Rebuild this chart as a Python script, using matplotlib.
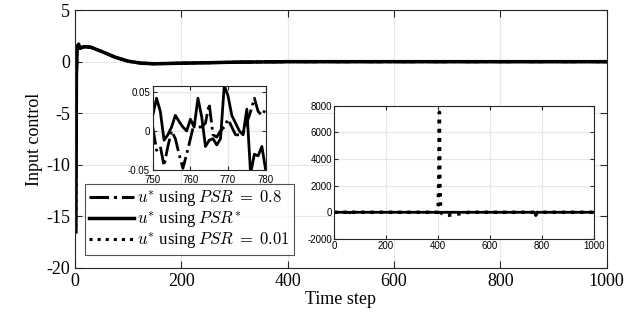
import numpy as np
import matplotlib
matplotlib.use('Agg')
import matplotlib.pyplot as plt

plt.rcParams['font.family'] = ['Liberation Serif', 'DejaVu Serif']
plt.rcParams['mathtext.fontset'] = 'cm'

# main view: knots
main_steps = [2, 3, 4, 5, 7, 10, 14, 20, 30, 50, 75, 100, 125, 150, 200, 250, 300, 400, 500, 600, 700, 800, 900, 1000]
main_psr08 = [-11.0, -1.5, 0.8, 1.4, 1.6, 1.3, 1.4, 1.45, 1.4, 1.0, 0.45, 0.05, -0.15, -0.2, -0.15, -0.1, -0.05, 0.0, 0.0, 0.0, 0.0, 0.0, 0.0, 0.0]
main_psrstar = [-16.5, -1.2, 0.9, 1.5, 1.7, 1.3, 1.4, 1.45, 1.4, 1.0, 0.45, 0.05, -0.15, -0.2, -0.15, -0.1, -0.05, 0.0, 0.0, 0.0, 0.0, 0.0, 0.0, 0.0]
main_psr001 = [-16.0, -1.3, 0.9, 1.5, 1.6, 1.3, 1.4, 1.45, 1.4, 1.0, 0.45, 0.05, -0.15, -0.2, -0.15, -0.1, -0.05, 0.0, 0.0, 0.0, 0.0, 0.0, 0.0, 0.0]

# zoomed inset, steps 750-780
zoom_steps = list(range(750, 781))
zoom_psr08 = [0.005, -0.025, -0.02, -0.045, -0.02, 0.0, -0.01, -0.03, -0.048, -0.03, -0.01,
              0.01, 0.005, 0.005, 0.01, 0.035, -0.005, -0.008, 0.0, 0.005, 0.015,
              0.005, -0.005, -0.005, -0.003, 0.01, 0.025, 0.042, 0.025, 0.02, 0.028]
zoom_psrstar = [0.02, 0.042, 0.025, -0.012, -0.005, 0.005, 0.02, 0.012, 0.005, 0.0, 0.015,
                0.005, 0.042, 0.018, -0.02, -0.012, -0.01, -0.018, -0.01, 0.058, 0.045,
                0.02, 0.01, 0.0, -0.005, 0.028, -0.055, -0.03, -0.032, -0.02, -0.05]

# full-range inset
wide_steps = [0, 55, 60, 65, 400, 403, 405, 407, 410, 420, 440, 460, 480, 500, 520, 770, 774, 776, 778, 782, 1000]
wide_psr001 = [0, 0, -60, 0, 0, 3000, 7500, 2000, 0, -200, -220, -180, -120, -50, 0, 0, -150, -300, -100, 0, 0]
wide_psrstar = [0, 0, -40, 0, 0, 0, 0, 0, 0, 0, 0, 0, 0, 0, 0, 0, -100, -250, -50, 0, 0]

grid_kw = dict(color='#e6e6e6', linewidth=0.8)


def style_axes(ax):
    ax.tick_params(direction='in', top=True, right=True, length=3, color='#262626')
    for s in ax.spines.values():
        s.set_color('#262626')
        s.set_linewidth(0.8)
    ax.grid(True, **grid_kw)
    ax.set_axisbelow(True)


fig = plt.figure(figsize=(6.34, 3.26), dpi=100)
ax = fig.add_axes([0.118, 0.178, 0.839, 0.791])
ax.plot(main_steps, main_psr08, color='black', linestyle='-.', linewidth=2.2, label=r'$u^{*}$ using $PSR\;=\;0.8$')
ax.plot(main_steps, main_psrstar, color='black', linestyle='-', linewidth=2.5, label=r'$u^{*}$ using $PSR^{*}$')
ax.plot(main_steps, main_psr001, color='black', linestyle=':', linewidth=2.2, label=r'$u^{*}$ using $PSR\;=\;0.01$')
ax.set_xlim(0, 1000)
ax.set_ylim(-20, 5)
ax.set_xticks([0, 200, 400, 600, 800, 1000])
ax.set_yticks([-20, -15, -10, -5, 0, 5])
ax.set_yticklabels(['-20', '-15', '-10', '-5', '0', '5'])
ax.tick_params(labelsize=13)
style_axes(ax)
ax.tick_params(length=5)
ax.set_xlabel('Time step', fontsize=13, labelpad=1)
ax.set_ylabel('Input control', fontsize=13, labelpad=2)
leg = ax.legend(loc='lower left', bbox_to_anchor=(0.019, 0.05), borderaxespad=0,
                fontsize=12, frameon=True, fancybox=False, edgecolor='#262626',
                handlelength=2.7, handletextpad=0.2, borderpad=0.25, labelspacing=0.02)
leg.get_frame().set_linewidth(0.8)

ins1 = fig.add_axes([0.241, 0.479, 0.178, 0.258])
ins1.plot(zoom_steps, zoom_psr08, color='black', linestyle='-.', linewidth=2.0)
ins1.plot(zoom_steps, zoom_psrstar, color='black', linestyle='-', linewidth=2.0)
ins1.set_xlim(750, 780)
ins1.set_ylim(-0.05, 0.058)
ins1.set_xticks([750, 760, 770, 780])
ins1.set_yticks([-0.05, 0, 0.05])
ins1.set_yticklabels(['-0.05', '0', '0.05'])
for lbl in ins1.get_xticklabels() + ins1.get_yticklabels():
    lbl.set_family('Liberation Sans')
style_axes(ins1)
ins1.tick_params(labelsize=7)
ins1.tick_params(axis='x', pad=3.5)
ins1.tick_params(axis='y', pad=2)

ins2 = fig.add_axes([0.527, 0.267, 0.410, 0.409])
ins2.plot(wide_steps, wide_psrstar, color='black', linestyle='-', linewidth=2.0)
ins2.plot(wide_steps, wide_psr001, color='black', linestyle=':', linewidth=2.5)
ins2.set_xlim(0, 1000)
ins2.set_ylim(-2000, 8000)
ins2.set_xticks([0, 200, 400, 600, 800, 1000])
ins2.set_yticks([-2000, 0, 2000, 4000, 6000, 8000])
ins2.set_yticklabels(['-2000', '0', '2000', '4000', '6000', '8000'])
for lbl in ins2.get_xticklabels() + ins2.get_yticklabels():
    lbl.set_family('Liberation Sans')
style_axes(ins2)
ins2.tick_params(labelsize=7, pad=1.5)

fig.savefig('out.png', dpi=100)
